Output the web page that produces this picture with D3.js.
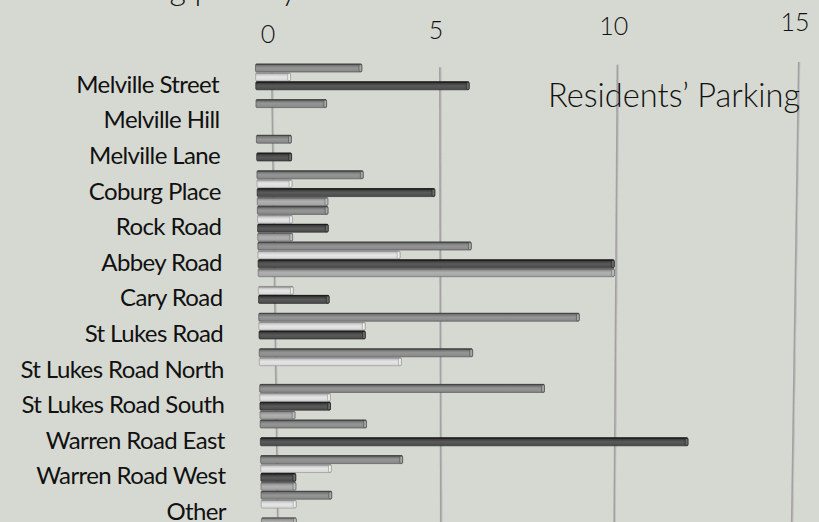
<!DOCTYPE html>
<html>
<head>
<meta charset="utf-8">
<script src="https://cdn.jsdelivr.net/npm/d3@7"></script>
<style>
  html, body { margin: 0; padding: 0; background: #d6d9d2; }
  svg { display: block; }
</style>
</head>
<body>
<svg id="chart" width="819" height="522"></svg>
<script>
// ---- data ----
const categories = ["Melville Street","Melville Hill","Melville Lane","Coburg Place","Rock Road","Abbey Road","Cary Road","St Lukes Road","St Lukes Road North","St Lukes Road South","Warren Road East","Warren Road West","Other"];
const seriesNames = ["Series 1","Series 2","Series 3","Series 4"];
const series1 = [3,2,1,3,2,6,0,9,6,8,3,4,2];
const series2 = [1,0,0,1,1,4,1,3,4,2,0,2,1];
const series3 = [6,0,1,5,2,10,2,3,0,2,12,1,0];
const series4 = [0,0,0,2,1,10,0,0,0,1,0,1,1];
const tickValues = [0,5,10,15];
const titleText = "Parking per day";
const panelLabel = "Residents\u2019 Parking";

const allSeries = [series1, series2, series3, series4];
const palette = [
  {edge:"#464646", top:"#727272", mid:"#969696", bot:"#878787", cap:"#a8a8a8"},
  {edge:"#8e8e8e", top:"#c2c2c2", mid:"#e6e6e6", bot:"#d6d6d6", cap:"#f0f0f0"},
  {edge:"#1e1e1e", top:"#3a3a3a", mid:"#5a5a5a", bot:"#4a4a4a", cap:"#6c6c6c"},
  {edge:"#626262", top:"#8e8e8e", mid:"#b0b0b0", bot:"#a2a2a2", cap:"#bebebe"}
];

const svg = d3.select("#chart");
const W = 819, H = 522;
svg.append("rect").attr("width", W).attr("height", H).attr("fill", "#d6d9d2");

// ---- scales ----
const y = d3.scaleBand().domain(categories).range([63.5, 63.5 + 13 * 35.6]).paddingInner(0).paddingOuter(0);
const ySub = d3.scaleBand().domain(d3.range(4)).range([0, y.bandwidth()]).padding(0);
const xBar = d3.scaleLinear().domain([0, 15]).range([0, 535.5]);
const xOrigin = d3.scaleLinear().domain([60, 520]).range([255, 261]);
// grid (perspective: slightly non-linear, leaning)
const gridTop = d3.scalePow().exponent(1.04).domain([0, 15]).range([272, 799]);
const gridBot = d3.scalePow().exponent(1.045).domain([0, 15]).range([278, 792]);
const gridStartY = d3.scaleLinear().domain([0, 15]).range([70, 62]);
const tickX = d3.scalePow().exponent(1.04).domain([0, 15]).range([268, 795]);
const tickBase = d3.scaleLinear().domain([0, 15]).range([43, 31]);
const labelX = d3.scaleLinear().domain([84, 510]).range([219, 226]);

// ---- gradients ----
const defs = svg.append("defs");
palette.forEach((p, i) => {
  const g = defs.append("linearGradient").attr("id", "bg" + i)
    .attr("x1", 0).attr("y1", 0).attr("x2", 0).attr("y2", 1);
  g.append("stop").attr("offset", "0%").attr("stop-color", p.edge);
  g.append("stop").attr("offset", "16%").attr("stop-color", p.top);
  g.append("stop").attr("offset", "50%").attr("stop-color", p.mid);
  g.append("stop").attr("offset", "100%").attr("stop-color", p.bot);
});

// ---- gridlines ----
const grid = svg.append("g");
tickValues.forEach(v => {
  grid.append("line")
    .attr("x1", gridTop(v)).attr("y1", gridStartY(v))
    .attr("x2", gridBot(v)).attr("y2", 522)
    .attr("stroke", "#a2a2a2").attr("stroke-width", 2.2);
  grid.append("line")
    .attr("x1", gridTop(v) + 0.9).attr("y1", gridStartY(v))
    .attr("x2", gridBot(v) + 0.9).attr("y2", 522)
    .attr("stroke", "#c6c6c6").attr("stroke-width", 0.8);
});

// ---- bars ----
const barData = [];
categories.forEach((c, ci) => {
  allSeries.forEach((s, si) => {
    barData.push({cat: c, si: si, v: s[ci]});
  });
});
const bars = svg.append("g");
barData.filter(d => d.v > 0).forEach(d => {
  const yy = y(d.cat) + ySub(d.si);
  const h = ySub.bandwidth();
  const x0 = xOrigin(yy + h / 2);
  const w = xBar(d.v);
  const p = palette[d.si];
  const g = bars.append("g");
  g.append("rect").attr("x", x0 + 0.4).attr("y", yy + 0.4).attr("width", w - 0.8).attr("height", h - 0.8)
    .attr("rx", 1.2).attr("fill", "url(#bg" + d.si + ")")
    .attr("stroke", p.edge).attr("stroke-width", 0.8).attr("stroke-opacity", 0.75);
  g.append("line").attr("x1", x0 + 1).attr("x2", x0 + w - 1)
    .attr("y1", yy + 0.8).attr("y2", yy + 0.8)
    .attr("stroke", p.edge).attr("stroke-width", 1.2);
  g.append("rect").attr("x", x0 + w - 3.2).attr("y", yy + 1.2).attr("width", 2.8).attr("height", h - 2)
    .attr("rx", 1).attr("fill", p.cap).attr("stroke", p.edge).attr("stroke-width", 0.6);
});

// ---- category labels ----
svg.append("g").selectAll("text").data(categories).join("text")
  .attr("x", d => labelX(y(d) + y.bandwidth() * 0.58))
  .attr("y", d => y(d) + y.bandwidth() * 0.58)
  .attr("dy", "0.36em")
  .attr("text-anchor", "end")
  .attr("font-family", "Lato, 'Liberation Sans', sans-serif")
  .attr("font-size", 24)
  .attr("letter-spacing", "-0.6px")
  .attr("fill", "#111111")
  .text(d => d);

// ---- tick labels ----
svg.append("g").selectAll("text").data(tickValues).join("text")
  .attr("x", d => tickX(d))
  .attr("y", d => tickBase(d))
  .attr("text-anchor", "middle")
  .attr("font-family", "Lato, 'Liberation Sans', sans-serif")
  .attr("font-weight", 300)
  .attr("font-size", 25)
  .attr("fill", "#111111")
  .text(d => d);

// ---- title (cropped at top, as in the source) ----
svg.append("text")
  .attr("x", 297).attr("y", 0)
  .attr("text-anchor", "end")
  .attr("font-family", "Lato, 'Liberation Sans', sans-serif")
  .attr("font-weight", 300)
  .attr("font-size", 32)
  .attr("fill", "#111111")
  .text(titleText);

// ---- panel label ----
svg.append("text")
  .attr("x", 548).attr("y", 107)
  .attr("font-family", "Lato, 'Liberation Sans', sans-serif")
  .attr("font-weight", 300)
  .attr("font-size", 32.6)
  .attr("fill", "#111111")
  .text(panelLabel);
</script>
</body>
</html>
